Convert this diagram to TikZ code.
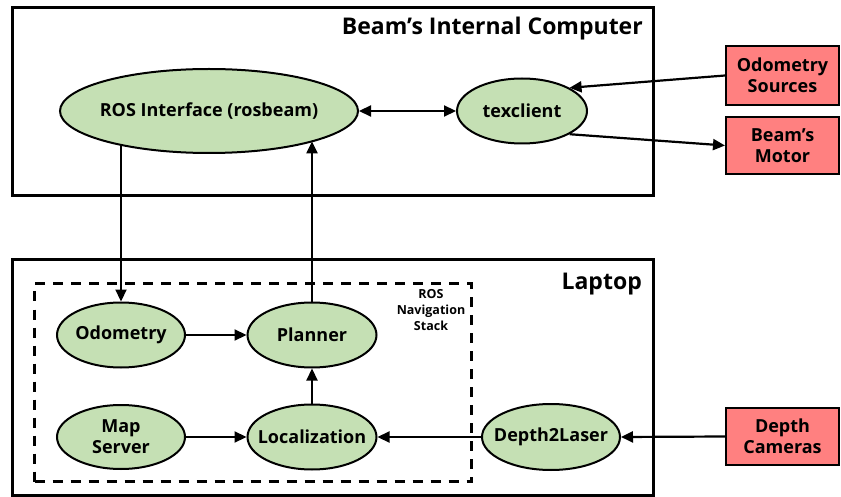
\documentclass[tikz,border=0pt]{standalone}
\usepackage{fontspec}
\setmainfont{Open Sans}
\usetikzlibrary{arrows.meta,shapes.geometric,calc}
\definecolor{nodegreen}{RGB}{197,224,180}
\definecolor{extred}{RGB}{255,128,128}
\begin{document}
\begin{tikzpicture}[x=1pt,y=-1pt,
  >={Triangle[length=12pt,width=11pt]},
  proc/.style={ellipse,draw,line width=2pt,fill=nodegreen,font=\fontsize{18}{21}\selectfont\bfseries,align=center,inner xsep=-40pt,inner ysep=0pt},
  ext/.style={rectangle,draw,line width=2pt,fill=extred,font=\fontsize{18}{21}\selectfont\bfseries,align=center,inner sep=0pt,minimum width=113pt},
  conn/.style={line width=2.2pt,->},
  frame/.style={draw,line width=3pt,anchor=north west,inner sep=0pt},
  titletext/.style={font=\fontsize{23}{27}\selectfont\bfseries,anchor=base east,inner sep=0pt}]
\useasboundingbox (0,0) rectangle (841,497);

% frames
\node[frame,minimum width=641pt,minimum height=188pt] (beam) at (11,6) {};
\node[frame,minimum width=641pt,minimum height=236pt] (laptop) at (11,258) {};
\node[titletext] (beamtitle) at (643,35) {Beam’s Internal Computer};
\node[titletext] (laptoptitle) at (642,290) {Laptop};

% navigation stack
\node[draw,line width=3pt,dash pattern=on 10pt off 8pt,anchor=north west,inner sep=0pt,minimum width=437pt,minimum height=198pt] (nav) at (33,282) {};
\node[font=\fontsize{12.5}{16}\selectfont\bfseries,align=center,anchor=north,inner sep=0pt] (navlabel) at (431,289) {ROS\\Navigation\\Stack};

% processes
\node[proc,minimum width=298pt,minimum height=84pt] (ros) at (209,111) {ROS Interface (rosbeam)};
\node[proc,minimum width=130pt,minimum height=65pt] (tex) at (522,111) {texclient};
\node[proc,minimum width=128pt,minimum height=65pt] (odo) at (121,335) {Odometry};
\node[proc,minimum width=129pt,minimum height=65pt] (pl) at (312,335) {Planner};
\node[proc,minimum width=128pt,minimum height=64pt] (map) at (121,437) {Map\\Server};
\node[proc,minimum width=129pt,minimum height=65pt] (loc) at (312,437) {Localization};
\node[proc,minimum width=138pt,minimum height=66pt] (d2l) at (551,437) {Depth2Laser};

% external
\node[ext,minimum height=59pt] (os) at (782.5,75.5) {Odometry\\Sources};
\node[ext,minimum height=57pt] (bm) at (782.5,145.5) {Beam’s\\Motor};
\node[ext,minimum height=57pt] (dc) at (782.5,436.5) {Depth\\Cameras};

% connectors
\draw[conn,<->] (ros.east) -- (tex.west);
\draw[conn] (os.west) -- (tex.26);
\draw[conn] (tex.-26) -- (bm.west);
\draw[conn] (odo.north |- ros.-158.6) -- (odo.north);
\draw[conn] (pl.north) -- (pl.north |- ros.-16.4);
\draw[conn] (odo.east) -- (pl.west);
\draw[conn] (map.east) -- (loc.west);
\draw[conn] (loc.north) -- (pl.south);
\draw[conn] (d2l.west) -- (loc.east);
\draw[conn] (dc.west) -- (d2l.east);
\end{tikzpicture}
\end{document}
